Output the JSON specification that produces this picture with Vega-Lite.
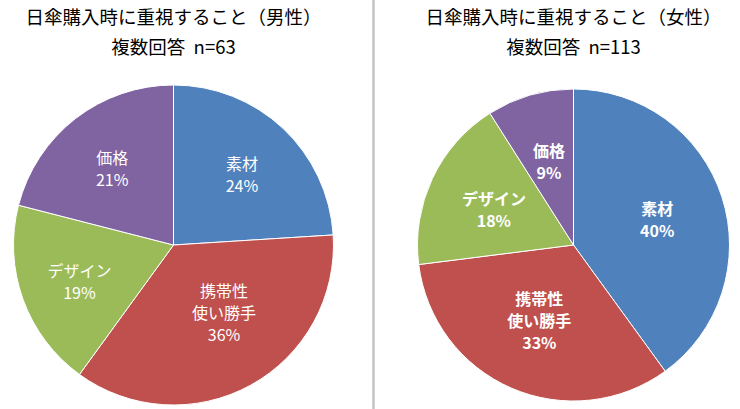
{
  "$schema": "https://vega.github.io/schema/vega-lite/v6.json",
  "width": 740,
  "height": 409,
  "padding": 0,
  "autosize": {"type": "none"},
  "background": "white",
  "config": {"view": {"stroke": null}, "font": "Noto Sans CJK JP"},
  "datasets": {
    "pies": [
      {"sex": "男性", "no": 1, "item": "素材", "pct": 24},
      {"sex": "男性", "no": 2, "item": "携帯性\n使い勝手", "pct": 36},
      {"sex": "男性", "no": 3, "item": "デザイン", "pct": 19},
      {"sex": "男性", "no": 4, "item": "価格", "pct": 21},
      {"sex": "女性", "no": 1, "item": "素材", "pct": 40},
      {"sex": "女性", "no": 2, "item": "携帯性\n使い勝手", "pct": 33},
      {"sex": "女性", "no": 3, "item": "デザイン", "pct": 18},
      {"sex": "女性", "no": 4, "item": "価格", "pct": 9}
    ],
    "titles": [
      {"sex": "男性", "lines": ["日傘購入時に重視すること（男性）", "複数回答\u00a0\u00a0n=63"]},
      {"sex": "女性", "lines": ["日傘購入時に重視すること（女性）", "複数回答\u00a0\u00a0n=113"]}
    ]
  },
  "layer": [
    {
      "data": {"name": "titles"},
      "mark": {"type": "rule", "color": "#c4c4c4", "strokeWidth": 2},
      "encoding": {
        "x": {"datum": "|", "type": "nominal", "scale": {"type": "point", "domain": ["男性", "|", "女性"], "range": [173.5, 573.5], "padding": 0}, "axis": null}
      }
    },
    {
      "data": {"name": "pies"},
      "transform": [{"filter": "datum.sex === '男性'"}],
      "mark": {"type": "arc", "outerRadius": 160, "stroke": "#ffffff", "strokeWidth": 1},
      "encoding": {
        "x": {"field": "sex", "type": "nominal", "axis": null},
        "y": {"datum": "pie", "type": "nominal", "scale": {"type": "point", "domain": ["title", "pie"], "range": [17.5, 245], "padding": 0}, "axis": null},
        "theta": {"field": "pct", "type": "quantitative", "stack": true, "scale": {"domain": [0, 100]}},
        "color": {"field": "item", "type": "nominal", "scale": {"domain": ["素材", "携帯性\n使い勝手", "デザイン", "価格"], "range": ["#4F81BD", "#C0504D", "#9BBB59", "#8064A2"]}, "legend": null},
        "order": {"field": "no", "type": "quantitative"}
      }
    },
    {
      "data": {"name": "pies"},
      "transform": [{"filter": "datum.sex === '女性'"}],
      "mark": {"type": "arc", "outerRadius": 156, "stroke": "#ffffff", "strokeWidth": 1},
      "encoding": {
        "x": {"field": "sex", "type": "nominal", "axis": null},
        "y": {"datum": "pie", "type": "nominal", "axis": null},
        "theta": {"field": "pct", "type": "quantitative", "stack": true},
        "color": {"field": "item", "type": "nominal", "legend": null},
        "order": {"field": "no", "type": "quantitative"}
      }
    },
    {
      "data": {"name": "pies"},
      "transform": [
        {"filter": "datum.sex === '男性'"},
        {"calculate": "datum.item + '\\n' + datum.pct + '%'", "as": "label"},
        {"stack": "pct", "groupby": ["sex"], "sort": [{"field": "no", "order": "ascending"}], "as": ["t0", "t1"]},
        {"calculate": "(datum.t0 + datum.t1) / 2", "as": "mid"},
        {"filter": "datum.no !== 2"}
      ],
      "mark": {"type": "text", "radius": 100, "dy": -7, "fill": "#ffffff", "fontSize": 16, "lineBreak": "\n", "lineHeight": 22, "baseline": "middle", "align": "center"},
      "encoding": {
        "x": {"field": "sex", "type": "nominal", "axis": null},
        "y": {"datum": "pie", "type": "nominal", "axis": null},
        "theta": {"field": "mid", "type": "quantitative", "stack": null},
        "text": {"field": "label", "type": "nominal"}
      }
    },
    {
      "data": {"name": "pies"},
      "transform": [
        {"filter": "datum.sex === '男性'"},
        {"calculate": "datum.item + '\\n' + datum.pct + '%'", "as": "label"},
        {"stack": "pct", "groupby": ["sex"], "sort": [{"field": "no", "order": "ascending"}], "as": ["t0", "t1"]},
        {"calculate": "(datum.t0 + datum.t1) / 2", "as": "mid"},
        {"filter": "datum.no === 2"}
      ],
      "mark": {"type": "text", "radius": 80, "dx": 12, "dy": -23, "fill": "#ffffff", "fontSize": 16, "lineBreak": "\n", "lineHeight": 22, "baseline": "middle", "align": "center"},
      "encoding": {
        "x": {"field": "sex", "type": "nominal", "axis": null},
        "y": {"datum": "pie", "type": "nominal", "axis": null},
        "theta": {"field": "mid", "type": "quantitative", "stack": null},
        "text": {"field": "label", "type": "nominal"}
      }
    },
    {
      "data": {"name": "pies"},
      "transform": [
        {"filter": "datum.sex === '女性'"},
        {"calculate": "datum.item + '\\n' + datum.pct + '%'", "as": "label"},
        {"stack": "pct", "groupby": ["sex"], "sort": [{"field": "no", "order": "ascending"}], "as": ["t0", "t1"]},
        {"calculate": "(datum.t0 + datum.t1) / 2", "as": "mid"},
        {"filter": "datum.no !== 2"}
      ],
      "mark": {"type": "text", "radius": 88, "dy": -8, "fill": "#ffffff", "fontSize": 16, "fontWeight": "bold", "lineBreak": "\n", "lineHeight": 22, "baseline": "middle", "align": "center"},
      "encoding": {
        "x": {"field": "sex", "type": "nominal", "axis": null},
        "y": {"datum": "pie", "type": "nominal", "axis": null},
        "theta": {"field": "mid", "type": "quantitative", "stack": null},
        "text": {"field": "label", "type": "nominal"}
      }
    },
    {
      "data": {"name": "pies"},
      "transform": [
        {"filter": "datum.sex === '女性'"},
        {"calculate": "datum.item + '\\n' + datum.pct + '%'", "as": "label"},
        {"stack": "pct", "groupby": ["sex"], "sort": [{"field": "no", "order": "ascending"}], "as": ["t0", "t1"]},
        {"calculate": "(datum.t0 + datum.t1) / 2", "as": "mid"},
        {"filter": "datum.no === 2"}
      ],
      "mark": {"type": "text", "radius": 86, "dy": -24, "fill": "#ffffff", "fontSize": 16, "fontWeight": "bold", "lineBreak": "\n", "lineHeight": 22, "baseline": "middle", "align": "center"},
      "encoding": {
        "x": {"field": "sex", "type": "nominal", "axis": null},
        "y": {"datum": "pie", "type": "nominal", "axis": null},
        "theta": {"field": "mid", "type": "quantitative", "stack": null},
        "text": {"field": "label", "type": "nominal"}
      }
    },
    {
      "data": {"name": "titles"},
      "mark": {"type": "text", "fontSize": 18.5, "lineHeight": 30, "baseline": "middle", "align": "center", "fill": "#000000"},
      "encoding": {
        "x": {"field": "sex", "type": "nominal", "scale": {"type": "point", "domain": ["男性", "|", "女性"], "range": [173.5, 573.5], "padding": 0}, "axis": null},
        "y": {"datum": "title", "type": "nominal", "axis": null},
        "text": {"field": "lines", "type": "nominal"}
      }
    }
  ]
}
